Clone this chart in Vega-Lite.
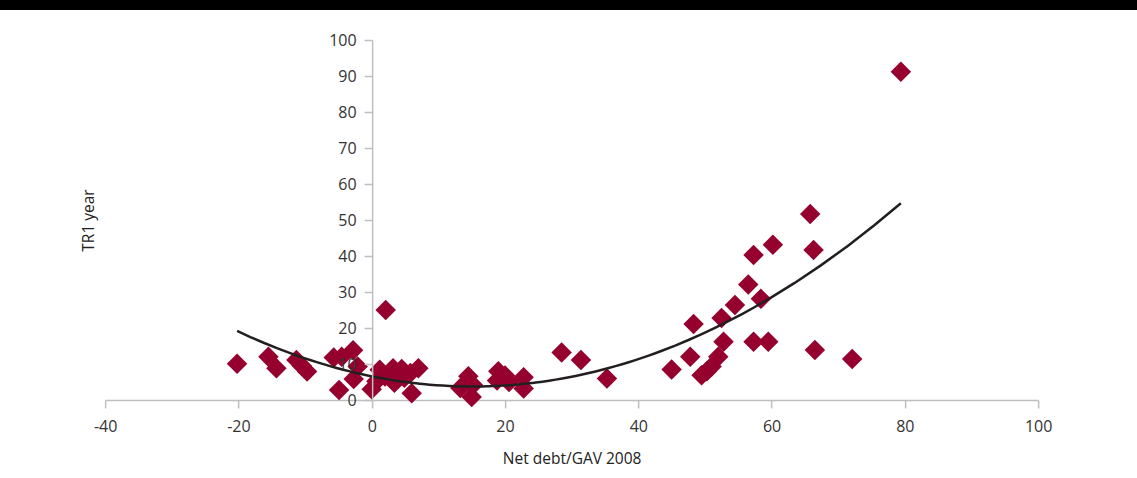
{
  "$schema": "https://vega.github.io/schema/vega-lite/v6.json",
  "padding": 0,
  "spacing": 22,
  "center": true,
  "background": "white",
  "config": {
    "view": {"stroke": null},
    "font": "Open Sans",
    "axis": {
      "labelFont": "Open Sans",
      "titleFont": "Open Sans",
      "labelFontSize": 16,
      "titleFontSize": 15.5,
      "labelColor": "#333333",
      "titleColor": "#222222",
      "titleFontWeight": "normal",
      "domainColor": "#bfbfbf",
      "tickColor": "#bfbfbf",
      "domainWidth": 1.5,
      "tickWidth": 1.5,
      "tickSize": 8,
      "grid": false,
      "labelOverlap": false,
      "labelFlush": false,
      "labelBound": false
    }
  },
  "vconcat": [
    {
      "width": 1157,
      "height": 10,
      "view": {"fill": "#000000", "stroke": null},
      "data": {"values": [{}]},
      "mark": {"type": "point", "opacity": 0},
      "encoding": {}
    },
    {
      "width": 933,
      "height": 360,
      "data": {
        "values": [
          {"x": -20.2, "y": 10.1}, {"x": -15.5, "y": 12.0}, {"x": -14.3, "y": 8.8},
          {"x": -11.3, "y": 11.1}, {"x": -10.5, "y": 9.5}, {"x": -9.7, "y": 7.9},
          {"x": -5.7, "y": 11.8}, {"x": -4.5, "y": 12.0}, {"x": -4.9, "y": 2.8},
          {"x": -2.8, "y": 13.8}, {"x": -2.1, "y": 9.3}, {"x": -2.7, "y": 5.8},
          {"x": 0.0, "y": 3.0}, {"x": 0.7, "y": 5.2}, {"x": 1.2, "y": 8.4},
          {"x": 2.1, "y": 25.0}, {"x": 2.0, "y": 6.5}, {"x": 3.2, "y": 8.8},
          {"x": 3.4, "y": 4.8}, {"x": 4.5, "y": 8.6}, {"x": 4.9, "y": 6.2},
          {"x": 5.8, "y": 7.5}, {"x": 6.0, "y": 1.9}, {"x": 7.0, "y": 8.8},
          {"x": 13.3, "y": 3.3}, {"x": 14.5, "y": 6.6}, {"x": 15.2, "y": 4.2},
          {"x": 15.0, "y": 0.8}, {"x": 19.0, "y": 8.0}, {"x": 18.8, "y": 5.4},
          {"x": 20.0, "y": 6.8}, {"x": 20.6, "y": 5.0}, {"x": 22.8, "y": 6.3},
          {"x": 22.8, "y": 3.2}, {"x": 28.5, "y": 13.2}, {"x": 31.4, "y": 11.1},
          {"x": 35.3, "y": 6.0}, {"x": 45.0, "y": 8.5}, {"x": 47.8, "y": 12.0},
          {"x": 48.3, "y": 21.1}, {"x": 49.5, "y": 6.9}, {"x": 50.3, "y": 8.0},
          {"x": 51.0, "y": 9.3}, {"x": 52.0, "y": 12.0}, {"x": 52.8, "y": 16.2},
          {"x": 52.5, "y": 22.8}, {"x": 54.5, "y": 26.4}, {"x": 56.5, "y": 32.1},
          {"x": 57.3, "y": 40.3}, {"x": 58.4, "y": 28.1}, {"x": 60.2, "y": 43.1},
          {"x": 57.3, "y": 16.2}, {"x": 59.5, "y": 16.2}, {"x": 65.8, "y": 51.7},
          {"x": 66.3, "y": 41.7}, {"x": 66.5, "y": 13.9}, {"x": 72.1, "y": 11.4},
          {"x": 79.4, "y": 91.2}
        ]
      },
      "encoding": {
        "x": {
          "field": "x",
          "type": "quantitative",
          "scale": {"domain": [-40, 100], "nice": false, "zero": false},
          "axis": {
            "title": "Net debt/GAV 2008",
            "values": [-40, -20, 0, 20, 40, 60, 80, 100],
            "labelExpr": "replace(datum.label, '\u2212', '-')",
            "labelPadding": 10,
            "titlePadding": 17
          }
        },
        "y": {
          "field": "y",
          "type": "quantitative",
          "scale": {"domain": [0, 100], "nice": false},
          "axis": {
            "title": "TR1 year",
            "values": [0, 10, 20, 30, 40, 50, 60, 70, 80, 90, 100],
            "offset": -267,
            "minExtent": 372,
            "labelPadding": 8,
            "titleX": -284,
            "titleBaseline": "middle",
            "zindex": 1
          }
        }
      },
      "layer": [
        {
          "mark": {"type": "point", "shape": "diamond", "filled": true, "size": 420, "color": "#96002f", "opacity": 1}
        },
        {
          "transform": [{"regression": "y", "on": "x", "method": "poly", "order": 2}],
          "mark": {"type": "line", "color": "#231f20", "strokeWidth": 2.5}
        }
      ]
    }
  ]
}
